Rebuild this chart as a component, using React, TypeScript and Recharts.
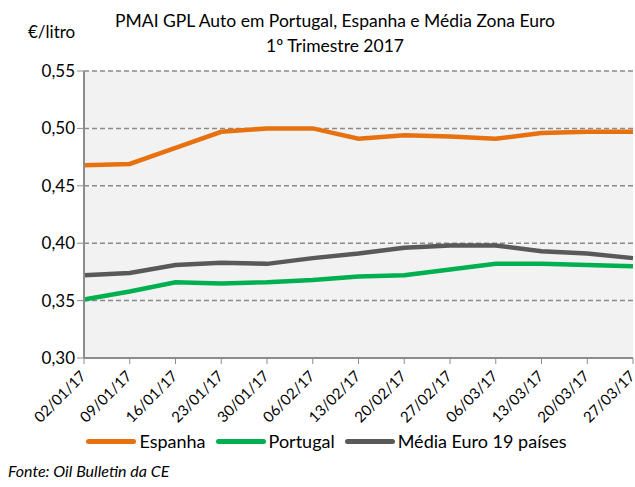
import { CartesianGrid, Line, LineChart, XAxis, YAxis } from 'recharts'

const weeks = [
  '02/01/17', '09/01/17', '16/01/17', '23/01/17', '30/01/17', '06/02/17', '13/02/17',
  '20/02/17', '27/02/17', '06/03/17', '13/03/17', '20/03/17', '27/03/17',
]
const espanha = [0.468, 0.469, 0.483, 0.497, 0.5, 0.5, 0.491, 0.494, 0.493, 0.491, 0.496, 0.497, 0.497]
const portugal = [0.351, 0.358, 0.366, 0.365, 0.366, 0.368, 0.371, 0.372, 0.377, 0.382, 0.382, 0.381, 0.38]
const mediaEuro = [0.372, 0.374, 0.381, 0.383, 0.382, 0.387, 0.391, 0.396, 0.398, 0.398, 0.393, 0.391, 0.387]
const yTicks = [0.3, 0.35, 0.4, 0.45, 0.5, 0.55]

const series = [
  { key: 'espanha', name: 'Espanha', color: '#e8710f' },
  { key: 'portugal', name: 'Portugal', color: '#00b050' },
  { key: 'media', name: 'Média Euro 19 países', color: '#595959' },
]

const data = weeks.map((week, i) => ({
  week,
  espanha: espanha[i],
  portugal: portugal[i],
  media: mediaEuro[i],
}))

const FONT = 'Lato, "Open Sans", sans-serif'
const fmt = (v: number) => v.toFixed(2).replace('.', ',')

function DateTick({ x, y, payload }: any) {
  const ax = x + 3
  const ay = y + 11
  return (
    <text x={ax} y={ay} textAnchor="end" transform={`rotate(-45, ${ax}, ${ay})`} fontSize={15} fill="#000" fontFamily={FONT}>
      {payload.value}
    </text>
  )
}

export default function App() {
  return (
    <div style={{ position: 'absolute', left: 0, top: 0, width: 635, height: 487, background: '#fff', fontFamily: FONT }}>
      <div style={{ position: 'absolute', left: 28, top: 21, fontSize: 17 }}>€/litro</div>
      <div style={{ position: 'absolute', left: 75, width: 520, top: 8, textAlign: 'center', fontSize: 17.5, lineHeight: '25px' }}>
        PMAI GPL Auto em Portugal, Espanha e Média Zona Euro
        <br />
        1º Trimestre 2017
      </div>
      <LineChart width={635} height={487} data={data} margin={{ top: 71, right: 2, bottom: 69, left: 0 }}>
        <CartesianGrid vertical={false} stroke="#8a8a8a" strokeWidth={1.5} strokeDasharray="5 3" fill="#f2f2f2" />
        <XAxis
          dataKey="week"
          height={60}
          interval={0}
          tick={<DateTick />}
          tickSize={6}
          axisLine={{ stroke: '#8c8c8c', strokeWidth: 2 }}
          tickLine={{ stroke: '#8c8c8c' }}
        />
        <YAxis
          width={84}
          domain={[0.3, 0.55]}
          ticks={yTicks}
          tickFormatter={fmt}
          tickSize={7}
          axisLine={{ stroke: '#8c8c8c', strokeWidth: 2 }}
          tickLine={{ stroke: '#8c8c8c' }}
          tick={{ fontSize: 17, fill: '#000', fontFamily: FONT }}
        />
        {series.map((s) => (
          <Line
            key={s.key}
            dataKey={s.key}
            name={s.name}
            stroke={s.color}
            strokeWidth={4.5}
            dot={false}
            isAnimationActive={false}
          />
        ))}
      </LineChart>
      <div style={{ position: 'absolute', left: 0, width: 663, top: 430, display: 'flex', justifyContent: 'center', alignItems: 'center', fontSize: 18 }}>
        {series.map((s) => (
          <div key={s.key} style={{ display: 'flex', alignItems: 'center', marginRight: 10 }}>
            <span style={{ display: 'inline-block', width: 50, height: 5, borderRadius: 3, background: s.color, marginRight: 3 }} />
            <span>{s.name}</span>
          </div>
        ))}
      </div>
      <div style={{ position: 'absolute', left: 8, top: 461, fontSize: 16, fontStyle: 'italic' }}>Fonte: Oil Bulletin da CE</div>
    </div>
  )
}
